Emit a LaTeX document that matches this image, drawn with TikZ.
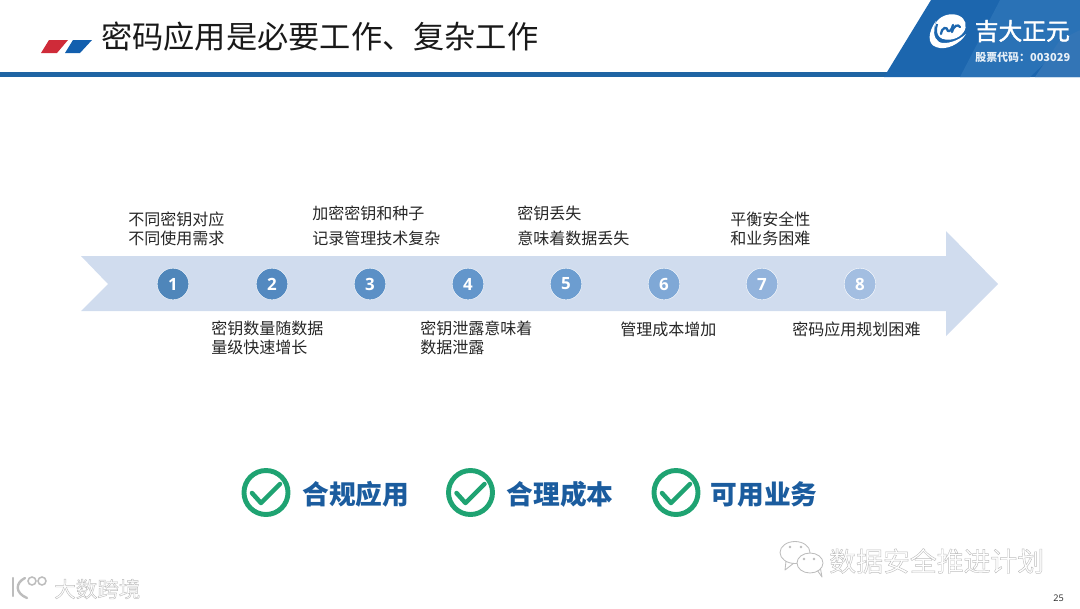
\documentclass[tikz,border=0pt]{standalone}
\usepackage{fontspec}
\setmainfont{Noto Sans CJK SC}
\newfontfamily\latinfont{Open Sans}
\usetikzlibrary{arrows.meta,positioning,shapes.geometric,calc}
\definecolor{primary}{HTML}{1F64A3}
\definecolor{logoblue}{HTML}{1C66AE}
\definecolor{logolight}{HTML}{2A72B6}
\definecolor{bandfill}{HTML}{D0DCEE}
\definecolor{accentred}{HTML}{CF2B39}
\definecolor{accentblue}{HTML}{125FAE}
\definecolor{text}{HTML}{262626}
\definecolor{accentgreen}{HTML}{1FA372}
\definecolor{goalblue}{HTML}{1B5C9E}
\definecolor{stampgray}{HTML}{BDBDBD}
\definecolor{stepa}{HTML}{4F86BA}
\definecolor{stepb}{HTML}{5389C0}
\definecolor{stepc}{HTML}{5B90C6}
\definecolor{stepd}{HTML}{6396CB}
\definecolor{stepe}{HTML}{6C9DD0}
\definecolor{stepf}{HTML}{7FA8D6}
\definecolor{stepg}{HTML}{92B3DC}
\definecolor{steph}{HTML}{A3BEE1}
\newcommand{\hollowtext}[1]{\special{pdf:code 2 Tr 0.3 w 0.74 0.74 0.74 RG}#1\special{pdf:code 0 Tr}}
\newcommand{\heavytext}[1]{\special{pdf:code 2 Tr 0.3 w 1 1 1 RG}#1\special{pdf:code 0 Tr}}

\begin{document}
\begin{tikzpicture}[
  x=0.025cm, y=-0.025cm,
  stepdot/.style={circle, draw=white, line width=0.3pt, minimum size=0.79cm, inner sep=0pt,
                  text=white, font=\latinfont\fontsize{12}{12}\selectfont\bfseries},
  note/.style={anchor=west, align=left, inner sep=0pt, text=text,
               font=\fontsize{11.4}{13.6}\selectfont},
  wide/.style={note, font=\fontsize{11.4}{17.8}\selectfont},
  tick/.style={circle, draw=accentgreen, line width=3.5pt, minimum size=1.1cm, inner sep=0pt},
  tickline/.style={accentgreen, line width=3.2pt, line cap=round, line join=round},
  goal/.style={anchor=west, inner sep=0pt, text=goalblue, font=\fontsize{19}{19}\selectfont\bfseries},
  stamp/.style={anchor=west, inner sep=0pt, text=white},
  bubble/.style={draw=stampgray, line width=0.6pt, fill=white, line join=round}
]
  \useasboundingbox (0,0) rectangle (1080,608);

  % ── Header ──
  \fill[accentred] (49,40) -- (68,40) -- (57,53) -- (41,53) -- cycle;
  \fill[accentblue] (73,40) -- (92,40) -- (80,53) -- (65,53) -- cycle;
  \node[anchor=west, inner sep=0pt, text=black!90, font=\fontsize{22.2}{22.2}\selectfont] (title) at (101,37)
    {密码应用是必要工作、复杂工作};
  \fill[primary] (0,72) rectangle (1080,77);

  % ── Logo ──
  \fill[logoblue] (931,0) -- (1080,0) -- (1080,77) -- (884,77) -- cycle;
  \fill[logolight] (1000,0) -- (1080,0) -- (1080,30) -- (1030,77) -- (960,77) -- cycle;
  \fill[logoblue!90!white] (1035,77) -- (1060,40) -- (1080,30) -- (1080,77) -- cycle;
  \fill[white, rotate around={15:(950,27)}] (950,27) ellipse (16 and 12.5);
  \draw[logoblue, line width=1.5pt] (937,24) .. controls (933,36) and (940,43) .. (953,41);
  \fill[white] (936,21) .. controls (928,32) and (927,44) .. (936,47)
    .. controls (946,51) and (960,44) .. (966,34)
    .. controls (958,41) and (946,45) .. (939,42)
    .. controls (933,38) and (933,29) .. (936,21) -- cycle;
  \draw[logoblue, line width=1.6pt, line cap=round] (941,34) .. controls (942,27) and (947,26) .. (948,31);
  \draw[logoblue, line width=1.6pt, line cap=round] (948,31) .. controls (950,32) and (952,29) .. (953,25);
  \draw[logoblue, line width=1.6pt, line cap=round] (952,32) .. controls (954,25) and (958,24) .. (960,27);
  \node[anchor=west, inner sep=0pt, text=white, font=\fontsize{16.9}{16.9}\selectfont] (logoname) at (974.5,31)
    {\heavytext{吉大正元}};
  \node[anchor=west, inner sep=0pt, text=white!90!logoblue, font=\fontsize{7.8}{7.8}\selectfont\bfseries] (stock) at (975,57)
    {股票代码：003029};

  % ── Band ──
  \fill[bandfill] (81,256) -- (946,256) -- (946,231) -- (998,284) -- (946,336)
    -- (946,311) -- (81,311) -- (108,284) -- cycle;

  % ── Steps ──
  \node[stepdot, fill=stepa] (s1) at (173,284) {1};
  \node[stepdot, fill=stepb] (s2) at (272,284) {2};
  \node[stepdot, fill=stepc] (s3) at (370,284) {3};
  \node[stepdot, fill=stepd] (s4) at (468,284) {4};
  \node[stepdot, fill=stepe] (s5) at (566,284) {5};
  \node[stepdot, fill=stepf] (s6) at (664,284) {6};
  \node[stepdot, fill=stepg] (s7) at (762,284) {7};
  \node[stepdot, fill=steph] (s8) at (860,284) {8};

  % ── Notes ──
  \node[note] (n1) at (128,228.5) {不同密钥对应\\不同使用需求};
  \node[note] (n2) at (211,338) {密钥数量随数据\\量级快速增长};
  \node[wide] (n3) at (312,225.5) {加密密钥和种子\\记录管理技术复杂};
  \node[note] (n4) at (420,338) {密钥泄露意味着\\数据泄露};
  \node[wide] (n5) at (517,225.5) {密钥丢失\\意味着数据丢失};
  \node[note] (n6) at (620,329) {管理成本增加};
  \node[note] (n7) at (730,228.5) {平衡安全性\\和业务困难};
  \node[note] (n8) at (792,329) {密码应用规划困难};

  % ── Goals ──
  \node[tick] (c1) at (266,492.5) {};
  \draw[tickline] (252,493) -- (261,503) -- (280,484);
  \node[goal] (g1) at (302,494) {合规应用};
  \node[tick] (c2) at (470.5,492.5) {};
  \draw[tickline] (456.5,493) -- (465.5,503) -- (484.5,484);
  \node[goal] (g2) at (506.5,494) {合理成本};
  \node[tick] (c3) at (676,492.5) {};
  \draw[tickline] (662,493) -- (671,503) -- (690,484);
  \node[goal] (g3) at (710.5,494) {可用业务};

  % ── Bottom stamps ──
  \draw[bubble] (786,561) -- (785,570) -- (794,563);
  \draw[bubble] (795,552.5) ellipse (15 and 11);
  \draw[bubble] (817,570) -- (822,577) -- (820,566);
  \draw[bubble] (810,563) ellipse (13 and 10);
  \fill[stampgray] (790,547) circle (1.3) (801,547) circle (1.3) (804,559) circle (1.3) (814,559) circle (1.3);
  \node[stamp, font=\fontsize{19.1}{19.1}\selectfont] (wechat) at (829,561) {\hollowtext{数据安全推进计划}};
  \draw[stampgray, line width=1.7pt, line cap=round] (13,578) -- (13,596);
  \draw[stampgray, line width=1.7pt, line cap=round] (25,578) .. controls (15,583) and (15,593) .. (27,598);
  \draw[stampgray, line width=1.1pt] (32,581) circle (4);
  \draw[stampgray, line width=1.1pt] (42,581) circle (4);
  \node[stamp, font=\fontsize{15.3}{15.3}\selectfont] (kuajing) at (54,589) {\hollowtext{大数跨境}};
  \node[anchor=east, inner sep=0pt, text=text, font=\latinfont\fontsize{6.5}{6.5}\selectfont] (page) at (1064,598) {25};
\end{tikzpicture}
\end{document}
